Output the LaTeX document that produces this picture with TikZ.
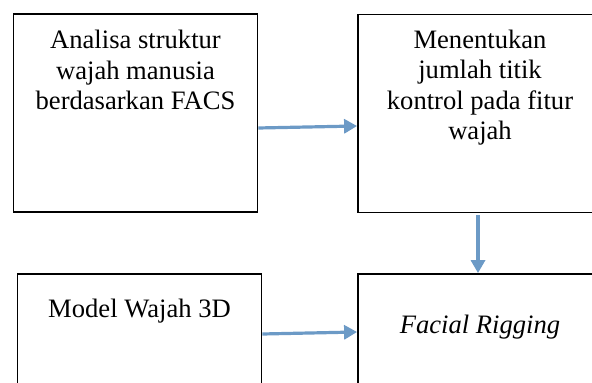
\documentclass[tikz,border=0pt]{standalone}
\usepackage{fontspec}
\setmainfont{Liberation Serif}
\usetikzlibrary{positioning,arrows.meta,calc}
\definecolor{arrowblue}{RGB}{108,154,198}

\begin{document}
\begin{tikzpicture}[
        x=0.5pt, y=-0.5pt,
        box/.style={rectangle, draw, line width=0.9pt, minimum width=122pt, minimum height=99pt, inner sep=0pt},
        widebox/.style={box, minimum width=128pt},
        txt/.style={align=center, inner sep=0pt, font=\fontsize{13.3pt}{15.25pt}\selectfont},
        arrow/.style={-{Triangle[width=7pt,length=6.5pt]}, line width=1.6pt, draw=arrowblue}
    ]
    \useasboundingbox (0,0) rectangle (592,383);
    \clip (0,0) rectangle (592,383);

    % Top row
    \node[box] (analisa) at (135.5,113) {};
    \node[widebox] (titik) at (486,113.5) {};

    % Bottom row
    \node[box] (model) at (139.5,373) {};
    \node[widebox] (rigging) at (486,373) {};

    % Texts
    \node[txt, below=8.4pt of analisa.north] (tanalisa) {Analisa struktur\\wajah manusia\\berdasarkan FACS};
    \node[txt, below=7.9pt of titik.north, xshift=-3pt] (ttitik) {Menentukan\\jumlah titik\\kontrol pada fitur\\wajah};
    \node[txt, below=12.9pt of model.north] (tmodel) {Model Wajah 3D};
    \node[txt, below=20.9pt of rigging.north, xshift=-3pt] (trigging) {\itshape Facial Rigging};

    % Arrows
    \draw[arrow] ($(analisa.east)+(0,15)$) -- ($(titik.west)+(0,12.5)$);
    \draw[arrow] ($(titik.south)+(-8,2)$) -- ($(rigging.north)+(-8,0)$);
    \draw[arrow] ($(model.east)+(0,-39)$) -- ($(rigging.west)+(0,-41)$);

\end{tikzpicture}
\end{document}
